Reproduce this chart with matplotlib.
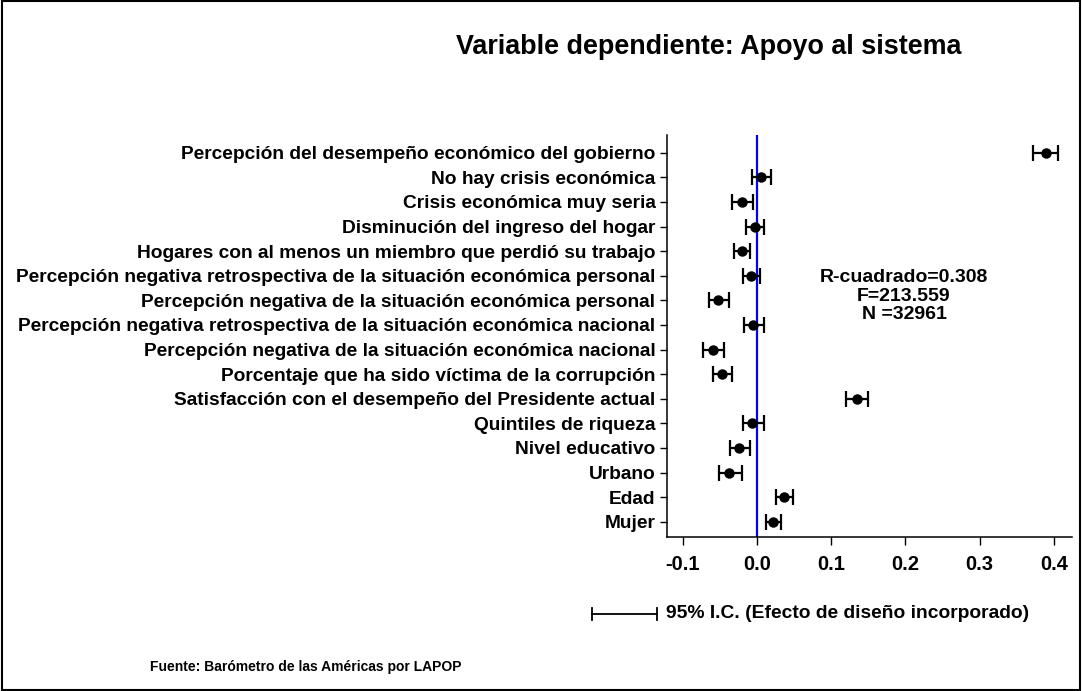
import matplotlib.pyplot as plt
from matplotlib.lines import Line2D
from matplotlib.patches import Rectangle

plt.rcParams["font.family"] = ["Liberation Sans", "DejaVu Sans"]
plt.rcParams["font.weight"] = "bold"

variables = [
    "Percepción del desempeño económico del gobierno",
    "No hay crisis económica",
    "Crisis económica muy seria",
    "Disminución del ingreso del hogar",
    "Hogares con al menos un miembro que perdió su trabajo",
    "Percepción negativa retrospectiva de la situación económica personal",
    "Percepción negativa de la situación económica personal",
    "Percepción negativa retrospectiva de la situación económica nacional",
    "Percepción negativa de la situación económica nacional",
    "Porcentaje que ha sido víctima de la corrupción",
    "Satisfacción con el desempeño del Presidente actual",
    "Quintiles de riqueza",
    "Nivel educativo",
    "Urbano",
    "Edad",
    "Mujer",
]
coef = [0.389, 0.005, -0.020, -0.003, -0.020, -0.008, -0.052, -0.005,
        -0.059, -0.047, 0.135, -0.006, -0.024, -0.037, 0.037, 0.022]
ci_low = [0.372, -0.007, -0.033, -0.015, -0.031, -0.019, -0.065, -0.018,
          -0.072, -0.059, 0.120, -0.019, -0.036, -0.051, 0.026, 0.012]
ci_high = [0.406, 0.019, -0.005, 0.010, -0.009, 0.004, -0.038, 0.009,
           -0.044, -0.034, 0.150, 0.009, -0.009, -0.020, 0.049, 0.033]

x_ticks = [-0.1, 0.0, 0.1, 0.2, 0.3, 0.4]
stats_text = "R-cuadrado=0.308\nF=213.559\nN =32961"

fig = plt.figure(figsize=(10.82, 6.91), dpi=100)
ax = fig.add_axes([0.6167, 0.2229, 0.3738, 0.5817])

ypos = list(range(len(variables)))
err_lo = [c - lo for c, lo in zip(coef, ci_low)]
err_hi = [hi - c for c, hi in zip(coef, ci_high)]
ax.axvline(0, color="#0000ff", lw=1.6, zorder=1)
ax.errorbar(coef, ypos, xerr=[err_lo, err_hi], fmt="o", color="black",
            ms=6.5, elinewidth=1.6, capsize=5.5, capthick=1.6, zorder=3)

ax.set_ylim(len(variables) - 1 + 0.62, -0.72)
ax.set_xlim(-0.1208, 0.424)
ax.set_yticks(ypos)
ax.set_yticklabels(variables)
ax.set_xticks(x_ticks)
ax.set_xticklabels([f"{t:.1f}" for t in x_ticks])
ax.tick_params(axis="y", labelsize=13.8, length=5, width=1, pad=3.5)
ax.tick_params(axis="x", labelsize=14.5, length=6, width=1, pad=7)
for side in ["top", "right"]:
    ax.spines[side].set_visible(False)
for side in ["left", "bottom"]:
    ax.spines[side].set_linewidth(1.1)

# model fit summary
ax.text(0.198, 5.83, stats_text, ha="center", va="center", fontsize=14,
        fontweight="bold", linespacing=1.12)

fig.text(0.655, 0.932, "Variable dependiente: Apoyo al sistema", ha="center",
         va="center", fontsize=19.4, fontweight="bold")

# confidence interval key
ky = 1 - 614 / 691
x0, x1 = 592 / 1082, 657 / 1082
fig.add_artist(Line2D([x0, x1], [ky, ky], color="black", lw=1.3))
for xc in (x0, x1):
    fig.add_artist(Line2D([xc, xc], [ky - 0.009, ky + 0.009], color="black", lw=1.3))
fig.text(666 / 1082, ky, "95% I.C. (Efecto de diseño incorporado)", ha="left",
         va="center", fontsize=13.9, fontweight="bold")

fig.text(150 / 1082, 1 - 667 / 691, "Fuente: Barómetro de las Américas por LAPOP",
         ha="left", va="center", fontsize=10, fontweight="bold")

fig.add_artist(Rectangle((0.002, 0.002), 0.996, 0.996, transform=fig.transFigure,
                         fill=False, edgecolor="black", lw=1.5))

fig.savefig("out.png", dpi=100)
